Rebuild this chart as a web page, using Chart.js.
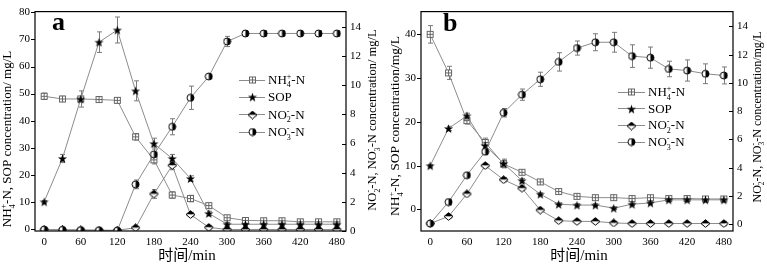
<!DOCTYPE html>
<html>
<head>
<meta charset="utf-8">
<script src="https://cdn.jsdelivr.net/npm/chart.js@4.4.1/dist/chart.umd.min.js"></script>
<style>
  body { margin: 0; background: #fff; }
  .panel { position: absolute; top: 0; height: 266px; }
</style>
</head>
<body>
<div class="panel" style="left:0;width:383px"><canvas id="chart-a"></canvas></div>
<div class="panel" style="left:383px;width:384px"><canvas id="chart-b"></canvas></div>
<script>
// sampling times (min) and tick values
const times = [0, 30, 60, 90, 120, 150, 180, 210, 240, 270, 300, 330, 360, 390, 420, 450, 480];
const xTicks = [0, 60, 120, 180, 240, 300, 360, 420, 480];
const leftTicksA = [0, 10, 20, 30, 40, 50, 60, 70, 80];
const leftTicksB = [0, 10, 20, 30, 40];
const rightTicks = [0, 2, 4, 6, 8, 10, 12, 14];

// panel a (NH4+ and SOP on left axis, NO2- and NO3- on right axis)
const aNH4 = [49, 48, 48, 47.8, 47.5, 34, 25.5, 12.5, 11.2, 8.6, 4.1, 3.1, 3.0, 3.0, 2.6, 2.6, 2.6];
const aNH4Err = [1.2, 1, 1, 1, 1, 1.2, 1.5, 1.2, 1.2, 0.6, 0.8, 0.6, 0.6, 0.6, 0.6, 0.6, 0.6];
const aSOP = [10, 26, 48, 69, 73.5, 51, 31.5, 26, 18.6, 5.7, 1.7, 1.7, 1.7, 1.7, 1.7, 1.7, 1.7];
const aSOPErr = [0.5, 1.5, 3, 3.8, 4.8, 3.7, 2, 1.5, 1, 0.8, 0.6, 0.5, 0.5, 0.5, 0.5, 0.5, 0.5];
const aNO2 = [0.1, 0.08, 0.07, 0.05, 0.05, 0.22, 2.54, 4.5, 1.13, 0.25, 0.1, 0.1, 0.1, 0.1, 0.1, 0.1, 0.1];
const aNO2Err = [0, 0, 0, 0, 0, 0.1, 0.3, 0.3, 0.15, 0.1, 0, 0, 0, 0, 0, 0, 0];
const aNO3 = [0.1, 0.08, 0.06, 0.05, 0.03, 3.2, 5.26, 7.15, 9.14, 10.6, 13.0, 13.55, 13.55, 13.55, 13.55, 13.55, 13.55];
const aNO3Err = [0, 0, 0, 0, 0, 0.3, 0.5, 0.55, 0.8, 0.15, 0.35, 0.2, 0.2, 0.2, 0.2, 0.2, 0.2];

// panel b
const bNH4 = [40, 31.2, 20.3, 15.3, 10.4, 8.5, 6.3, 4.1, 3.0, 2.7, 2.7, 2.5, 2.7, 2.5, 2.5, 2.4, 2.4];
const bNH4Err = [2, 1.5, 0.8, 1, 0.8, 0.4, 0.4, 0.3, 0.3, 0.3, 0.3, 0.3, 0.3, 0.3, 0.3, 0.3, 0.3];
const bSOP = [10, 18.5, 21.4, 14.6, 10.5, 6.6, 3.5, 1.2, 1.0, 1.0, 0.3, 1.2, 1.5, 2.2, 2.2, 2.2, 2.2];
const bSOPErr = [0.3, 0.5, 0.6, 1, 1, 0.5, 0.3, 0.3, 0.3, 0.3, 0.3, 0.3, 0.3, 0.3, 0.3, 0.3, 0.3];
const bNO2 = [0.05, 0.55, 2.14, 4.15, 3.15, 2.55, 1.0, 0.25, 0.2, 0.2, 0.09, 0.05, 0.05, 0.05, 0.05, 0.05, 0.05];
const bNO2Err = [0.1, 0.1, 0.1, 0.15, 0.15, 0.15, 0.1, 0.1, 0.1, 0.1, 0.1, 0.1, 0.1, 0.1, 0.1, 0.1, 0.15];
const bNO3 = [0.05, 1.57, 3.47, 5.13, 7.89, 9.17, 10.26, 11.49, 12.47, 12.88, 12.88, 11.9, 11.79, 10.99, 10.88, 10.65, 10.53];
const bNO3Err = [0.1, 0.2, 0.1, 0.2, 0.3, 0.4, 0.5, 0.65, 0.5, 0.6, 0.7, 0.8, 0.75, 0.55, 0.75, 0.7, 0.6];

// label text pieces: [text, 'sub' | 'sup' | undefined]
const lblNH4 = [['NH'], ['4', 'sub'], ['+', 'sup'], ['-N']];
const lblSOP = [['SOP']];
const lblNO2 = [['NO'], ['2', 'sub'], ['-', 'sup'], ['-N']];
const lblNO3 = [['NO'], ['3', 'sub'], ['-', 'sup'], ['-N']];

const SERIF = '"Liberation Serif", "Times New Roman", serif';

// marker images
function marker(w, h, draw) {
  const c = document.createElement('canvas');
  c.width = w; c.height = h;
  draw(c.getContext('2d'), w / 2, h / 2);
  return c;
}
const mSquare = marker(9, 9, (g, cx, cy) => {
  g.fillStyle = '#fff'; g.fillRect(1, 1, 7, 7);
  g.strokeStyle = '#666'; g.lineWidth = 1;
  g.strokeRect(1.5, 1.5, 6, 6);
  g.beginPath();
  g.moveTo(4.5, 1.5); g.lineTo(4.5, 7.5);
  g.moveTo(1.5, 4.5); g.lineTo(7.5, 4.5);
  g.stroke();
});
const mStar = marker(11, 11, (g, cx, cy) => {
  g.beginPath();
  for (let i = 0; i < 10; i++) {
    const r = i % 2 ? 1.9 : 4.8;
    const a = -Math.PI / 2 + i * Math.PI / 5;
    g.lineTo(cx + r * Math.cos(a), cy + 0.5 + r * Math.sin(a));
  }
  g.closePath();
  g.fillStyle = '#000'; g.fill();
});
const mDiamond = marker(11, 9, (g, cx, cy) => {
  g.beginPath(); g.moveTo(cx - 4.5, cy); g.lineTo(cx, cy - 3.8); g.lineTo(cx + 4.5, cy); g.closePath();
  g.fillStyle = '#000'; g.fill();
  g.beginPath(); g.moveTo(cx - 4.5, cy); g.lineTo(cx, cy + 3.8); g.lineTo(cx + 4.5, cy); g.closePath();
  g.fillStyle = '#fff'; g.fill();
  g.beginPath(); g.moveTo(cx - 4.5, cy); g.lineTo(cx, cy - 3.8); g.lineTo(cx + 4.5, cy); g.lineTo(cx, cy + 3.8); g.closePath();
  g.strokeStyle = '#000'; g.lineWidth = 1; g.stroke();
});
const mCircle = marker(9, 9, (g, cx, cy) => {
  g.beginPath(); g.arc(cx, cy, 3.5, 0, Math.PI * 2); g.fillStyle = '#fff'; g.fill();
  g.beginPath(); g.moveTo(cx, cy); g.arc(cx, cy, 3.5, -Math.PI / 2, Math.PI / 2); g.closePath();
  g.fillStyle = '#000'; g.fill();
  g.beginPath(); g.arc(cx, cy, 3.5, 0, Math.PI * 2);
  g.strokeStyle = '#000'; g.lineWidth = 1; g.stroke();
});

// text with sub/superscripts; returns width
function drawRich(g, segs, x, y, size, measureOnly) {
  let cx = x, subStart = null, subEnd = null, prev = null;
  for (const [t, kind] of segs) {
    const s = kind ? size * 0.62 : size;
    g.font = s + 'px ' + SERIF;
    const w = g.measureText(t).width;
    let dy = 0;
    if (kind === 'sub') dy = size * 0.28;
    if (kind === 'sup') dy = -size * 0.38;
    let px = cx;
    if (kind === 'sup' && prev === 'sub') px = subStart;
    if (!measureOnly) g.fillText(t, px, y + dy);
    if (kind === 'sub') { subStart = cx; subEnd = cx + w; cx += w; }
    else if (kind === 'sup' && prev === 'sub') cx = Math.max(subEnd, px + w);
    else cx += w;
    prev = kind;
  }
  return cx - x;
}

function drawRotated(g, segs, cx, cy, size) {
  g.save();
  g.translate(cx, cy);
  g.rotate(-Math.PI / 2);
  g.fillStyle = '#000';
  g.textBaseline = 'alphabetic';
  g.textAlign = 'left';
  const w = drawRich(g, segs, 0, 0, size, true);
  drawRich(g, segs, -w / 2, size * 0.33, size);
  g.restore();
}

const panelDecor = {
  id: 'panelDecor',
  beforeDatasetsDraw(chart, args, o) {
    const g = chart.ctx;
    g.save();
    g.strokeStyle = '#7a7a7a';
    g.lineWidth = 1;
    chart.data.datasets.forEach((ds, i) => {
      const errs = o.errs[i];
      const meta = chart.getDatasetMeta(i);
      const ys = chart.scales[ds.yAxisID];
      meta.data.forEach((pt, j) => {
        const e = errs[j];
        if (!e) return;
        const v = ds.data[j].y;
        const x = Math.round(pt.x) + 0.5;
        const y1 = ys.getPixelForValue(v + e), y2 = ys.getPixelForValue(v - e);
        g.beginPath();
        g.moveTo(x, y1); g.lineTo(x, y2);
        g.moveTo(x - 2.5, y1); g.lineTo(x + 2.5, y1);
        g.moveTo(x - 2.5, y2); g.lineTo(x + 2.5, y2);
        g.stroke();
      });
    });
    g.restore();
  },
  afterDraw(chart, args, o) {
    const g = chart.ctx;
    const a = chart.chartArea;
    g.save();
    // frame
    g.strokeStyle = '#000';
    g.lineWidth = 1.2;
    g.strokeRect(a.left, a.top, a.right - a.left, a.bottom - a.top);
    // tick marks: left outward, right inward
    g.lineWidth = 1;
    const yl = chart.scales.yL, yr = chart.scales.yR;
    g.beginPath();
    o.leftTicks.forEach(v => {
      const y = Math.round(yl.getPixelForValue(v)) + 0.5;
      g.moveTo(a.left - 4, y); g.lineTo(a.left, y);
    });
    rightTicks.forEach(v => {
      const y = Math.round(yr.getPixelForValue(v)) + 0.5;
      g.moveTo(a.right - 4, y); g.lineTo(a.right, y);
    });
    g.stroke();
    // axis titles
    drawRotated(g, o.leftTitle.text, o.leftTitle.x, o.leftTitle.y, o.leftTitle.size);
    drawRotated(g, o.rightTitle.text, o.rightTitle.x, o.rightTitle.y, o.rightTitle.size);
    g.fillStyle = '#000';
    g.textAlign = 'center';
    g.textBaseline = 'middle';
    g.font = '15px ' + SERIF + ', "Noto Sans CJK SC"';
    g.fillText('时间/min', o.xTitle.x, o.xTitle.y);
    // panel letter
    g.textAlign = 'left';
    g.textBaseline = 'alphabetic';
    g.font = 'bold 26px ' + SERIF;
    g.fillText(o.letter.text, o.letter.x, o.letter.y);
    // legend
    const L = o.legend;
    const labels = [lblNH4, lblSOP, lblNO2, lblNO3];
    const marks = [mSquare, mStar, mDiamond, mCircle];
    labels.forEach((lbl, i) => {
      const y = L.y + i * L.dy;
      g.strokeStyle = '#8c8c8c';
      g.beginPath();
      g.moveTo(L.x, Math.round(y) + 0.5); g.lineTo(L.x + L.len, Math.round(y) + 0.5);
      g.stroke();
      const m = marks[i];
      g.drawImage(m, Math.round(L.x + L.len / 2 - m.width / 2), Math.round(y - m.height / 2) + 0.5);
      g.fillStyle = '#000';
      drawRich(g, lbl, L.x + L.len + 3, y + 13 * 0.33, 13);
    });
    g.restore();
  }
};

function makePanel(id, p) {
  const tickFont = { family: SERIF, size: 11 };
  return new Chart(document.getElementById(id), {
    type: 'line',
    data: {
      datasets: p.series.map(s => ({
        label: s.label,
        data: times.map((t, i) => ({ x: t, y: s.values[i] })),
        yAxisID: s.axis,
        borderColor: '#8c8c8c',
        borderWidth: 1,
        pointStyle: s.marker,
        pointRadius: 4,
        tension: 0,
        fill: false
      }))
    },
    options: {
      responsive: true,
      maintainAspectRatio: false,
      animation: false,
      events: [],
      layout: { autoPadding: false, padding: { top: 4, left: 0, right: 0, bottom: 0 } },
      plugins: {
        legend: { display: false },
        tooltip: { enabled: false },
        panelDecor: p.decor
      },
      scales: {
        x: {
          type: 'linear', min: -15, max: 495,
          grid: { display: false, drawTicks: false }, border: { display: false },
          afterBuildTicks: s => { s.ticks = xTicks.map(v => ({ value: v })); },
          afterFit: s => { s.height = 35; },
          ticks: { font: tickFont, color: '#000', padding: 5, maxRotation: 0, autoSkip: false }
        },
        yL: {
          type: 'linear', position: 'left', min: p.leftMin, max: p.leftMax,
          grid: { display: false, drawTicks: false }, border: { display: false },
          afterBuildTicks: s => { s.ticks = p.decor.leftTicks.map(v => ({ value: v })); },
          afterFit: s => { s.width = p.leftWidth; },
          ticks: { font: tickFont, color: '#000', padding: 5 }
        },
        yR: {
          type: 'linear', position: 'right', min: p.rightMin, max: p.rightMax,
          grid: { display: false, drawTicks: false }, border: { display: false },
          afterBuildTicks: s => { s.ticks = rightTicks.map(v => ({ value: v })); },
          afterFit: s => { s.width = p.rightWidth; },
          ticks: { font: tickFont, color: '#000', padding: 4 }
        }
      }
    },
    plugins: [panelDecor]
  });
}

makePanel('chart-a', {
  leftMin: -0.8, leftMax: 80.3, rightMin: 0, rightMax: 15.05,
  leftWidth: 35, rightWidth: 37,
  series: [
    { label: 'NO3-N', values: aNO3, axis: 'yR', marker: mCircle },
    { label: 'NO2-N', values: aNO2, axis: 'yR', marker: mDiamond },
    { label: 'SOP', values: aSOP, axis: 'yL', marker: mStar },
    { label: 'NH4-N', values: aNH4, axis: 'yL', marker: mSquare }
  ],
  decor: {
    errs: [aNO3Err, aNO2Err, aSOPErr, aNH4Err],
    leftTicks: leftTicksA,
    leftTitle: { text: [['NH'], ['4', 'sub'], ['+', 'sup'], ['-N, SOP concentration/ mg/L']], x: 7, y: 139, size: 13 },
    rightTitle: { text: [['NO'], ['2', 'sub'], ['-', 'sup'], ['-N, NO'], ['3', 'sub'], ['-', 'sup'], ['-N concentration/ mg/L']], x: 372, y: 120, size: 12.5 },
    xTitle: { x: 187, y: 256 },
    letter: { text: 'a', x: 52, y: 30 },
    legend: { x: 239, y: 79.5, dy: 17.4, len: 26 }
  }
});

makePanel('chart-b', {
  leftMin: -4.92, leftMax: 45.2, rightMin: -0.48, rightMax: 15.05,
  leftWidth: 38, rightWidth: 34,
  series: [
    { label: 'NO3-N', values: bNO3, axis: 'yR', marker: mCircle },
    { label: 'NO2-N', values: bNO2, axis: 'yR', marker: mDiamond },
    { label: 'SOP', values: bSOP, axis: 'yL', marker: mStar },
    { label: 'NH4-N', values: bNH4, axis: 'yL', marker: mSquare }
  ],
  decor: {
    errs: [bNO3Err, bNO2Err, bSOPErr, bNH4Err],
    leftTicks: leftTicksB,
    leftTitle: { text: [['NH'], ['4', 'sub'], ['+', 'sup'], ['-N, SOP concentration/mg/L']], x: 12, y: 126, size: 13.5 },
    rightTitle: { text: [['NO'], ['2', 'sub'], ['-', 'sup'], ['-N, NO'], ['3', 'sub'], ['-', 'sup'], ['-N concentration/mg/L']], x: 374, y: 117, size: 12 },
    xTitle: { x: 196, y: 256 },
    letter: { text: 'b', x: 60, y: 31 },
    legend: { x: 235, y: 91.7, dy: 16.7, len: 27 }
  }
});
</script>
</body>
</html>
